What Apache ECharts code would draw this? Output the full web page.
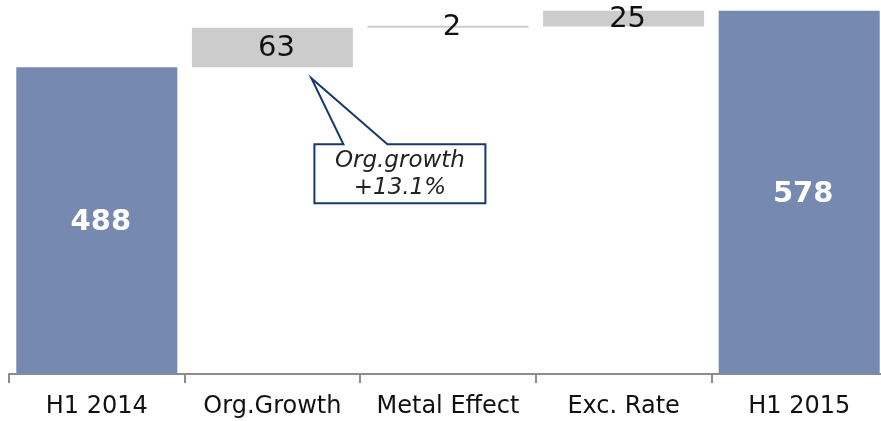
<!DOCTYPE html>
<html>
<head>
<meta charset="utf-8">
<script src="https://cdn.jsdelivr.net/npm/echarts@6/dist/echarts.min.js"></script>
<style>
  html, body { margin: 0; padding: 0; background: #ffffff; }
  #chart { width: 881px; height: 421px; }
</style>
</head>
<body>
<div id="chart"></div>
<script>
// Waterfall: start / end totals plus the three bridging effects
var categories = ['H1 2014', 'Org.Growth', 'Metal Effect', 'Exc. Rate', 'H1 2015'];
var totals = [488, null, null, null, 578];
var changes = [null, 63, 2, 25, null];
var calloutLines = ['Org.growth', '+13.1%'];

// invisible base under each change bar = running total before it
var bases = [];
var running = 0;
for (var i = 0; i < categories.length; i++) {
  if (totals[i] !== null) {
    running = totals[i];
    bases.push(null);
  } else {
    bases.push(running);
    running += changes[i];
  }
}

var FONT = '"DejaVu Sans", Verdana, sans-serif';
var chart = echarts.init(document.getElementById('chart'), null, { renderer: 'canvas' });

chart.setOption({
  animation: false,
  backgroundColor: '#ffffff',
  grid: { left: 9, width: 878, top: 0, height: 374, containLabel: false, outerBoundsMode: 'none' },
  xAxis: {
    type: 'category',
    data: categories,
    axisLine: { lineStyle: { color: '#8c8c8c', width: 2 } },
    axisTick: { show: true, length: 9, lineStyle: { color: '#8c8c8c', width: 2 } },
    axisLabel: { color: '#111111', fontFamily: FONT, fontSize: 24, margin: 21, interval: 0 }
  },
  yAxis: { type: 'value', min: 0, max: 595, show: false, splitLine: { show: false } },
  series: [
    {
      name: 'base', type: 'bar', stack: 'wf', barWidth: 161,
      itemStyle: { color: 'transparent' }, silent: true,
      data: bases
    },
    {
      name: 'change', type: 'bar', stack: 'wf', barWidth: 161, barMinHeight: 2,
      itemStyle: { color: '#cccccc' },
      label: {
        show: true, position: 'inside', color: '#111111', offset: [4, 1],
        fontFamily: FONT, fontSize: 29
      },
      data: changes
    },
    {
      name: 'total', type: 'bar', stack: 'wf', barWidth: 161,
      itemStyle: { color: '#7689b0' },
      label: {
        show: true, position: 'inside', color: '#ffffff', offset: [4, 2],
        fontFamily: FONT, fontSize: 29, fontWeight: 'bold'
      },
      data: totals
    }
  ]
});

// callout pointing at the organic-growth bar
var anchor = chart.convertToPixel({ xAxisIndex: 0, yAxisIndex: 0 }, [1, totals[0]]);
var tipX = anchor[0] + 39, tipY = anchor[1] + 11;
var boxL = anchor[0] + 42, boxT = anchor[1] + 77, boxW = 171, boxH = 59;
var navy = '#17396a';
chart.setOption({
  graphic: [
    {
      type: 'polygon', z: 100,
      shape: { points: [
        [boxL, boxT], [boxL + 29, boxT], [tipX, tipY], [boxL + 73, boxT],
        [boxL + boxW, boxT], [boxL + boxW, boxT + boxH], [boxL, boxT + boxH]
      ] },
      style: { fill: '#ffffff', stroke: navy, lineWidth: 2 }
    },
    {
      type: 'text', z: 101,
      x: boxL + boxW / 2, y: boxT + boxH / 2 + 1,
      style: {
        text: calloutLines.join('\n'), align: 'center', verticalAlign: 'middle',
        font: 'italic 23px ' + FONT, fill: '#222222', lineHeight: 27
      }
    }
  ]
});
</script>
</body>
</html>
